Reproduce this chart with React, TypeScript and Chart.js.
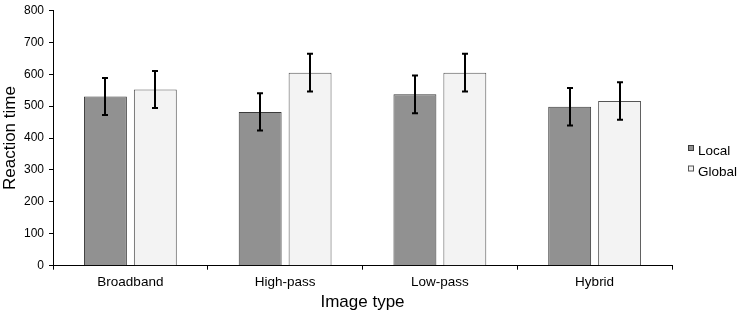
import React, { useEffect, useRef } from "react";
import { Chart, registerables } from "chart.js";

Chart.register(...registerables);

const categories = ["Broadband", "High-pass", "Low-pass", "Hybrid"];
const localValues = [530, 482, 537, 498];
const globalValues = [552, 605, 605, 516];
const localErrors = [58, 58, 59, 59];
const globalErrors = [58, 59, 59, 59];
const yTicks = [0, 100, 200, 300, 400, 500, 600, 700, 800];

const FONT = "'Liberation Sans', Arial, Helvetica, sans-serif";

const errorBarPlugin = {
  id: "errorBars",
  afterDatasetsDraw(chart: any) {
    const ctx = chart.ctx;
    const yScale = chart.scales.y;
    chart.data.datasets.forEach((ds: any, di: number) => {
      const meta = chart.getDatasetMeta(di);
      const errs: number[] = ds.errors || [];
      meta.data.forEach((bar: any, i: number) => {
        const v = ds.data[i];
        const e = errs[i];
        if (e == null) return;
        const x = Math.round(bar.x);
        const yTop = yScale.getPixelForValue(v + e);
        const yBot = yScale.getPixelForValue(v - e);
        ctx.save();
        ctx.strokeStyle = "#000";
        ctx.lineWidth = 2;
        ctx.beginPath();
        ctx.moveTo(x, yTop);
        ctx.lineTo(x, yBot);
        ctx.moveTo(x - 3, yTop);
        ctx.lineTo(x + 3, yTop);
        ctx.moveTo(x - 3, yBot);
        ctx.lineTo(x + 3, yBot);
        ctx.stroke();
        ctx.restore();
      });
    });
  },
};

const sideLegendPlugin = {
  id: "sideLegend",
  afterDraw(chart: any) {
    const ctx = chart.ctx;
    const x0 = 688;
    const y0 = 145;
    ctx.save();
    ctx.font = `13.5px ${FONT}`;
    ctx.textBaseline = "alphabetic";
    chart.data.datasets.forEach((ds: any, i: number) => {
      const y = y0 + i * 20.5;
      ctx.fillStyle = ds.backgroundColor;
      ctx.fillRect(x0 + 0.5, y + 0.5, 5, 5);
      ctx.strokeStyle = ds.borderColor;
      ctx.lineWidth = 1;
      ctx.strokeRect(x0 + 0.5, y + 0.5, 5, 5);
      ctx.fillStyle = "#000";
      ctx.fillText(ds.label, x0 + 10, y + 10);
    });
    ctx.restore();
  },
};

export default function App() {
  const canvasRef = useRef<HTMLCanvasElement | null>(null);

  useEffect(() => {
    const canvas = canvasRef.current;
    if (!canvas) return;
    const chart = new Chart(canvas, {
      type: "bar",
      data: {
        labels: categories,
        datasets: [
          {
            label: "Local",
            data: localValues,
            errors: localErrors,
            backgroundColor: "#919191",
            borderColor: "#3a3a3a",
            borderWidth: 1,
            barPercentage: 0.86,
            categoryPercentage: 0.645,
          } as any,
          {
            label: "Global",
            data: globalValues,
            errors: globalErrors,
            backgroundColor: "#f3f3f3",
            borderColor: "#555555",
            borderWidth: 1,
            barPercentage: 0.86,
            categoryPercentage: 0.645,
          } as any,
        ],
      },
      options: {
        responsive: false,
        animation: false,
        layout: { padding: { top: 5, right: 65, bottom: 0, left: 0 } },
        plugins: {
          legend: { display: false },
          tooltip: { enabled: false },
        },
        scales: {
          x: {
            grid: {
              display: true,
              drawOnChartArea: false,
              drawTicks: true,
              tickLength: 4,
              color: "#000",
              offset: true,
            },
            border: { display: true, color: "#000", width: 1 },
            ticks: {
              color: "#000",
              font: { family: FONT, size: 13.5 },
              padding: 4,
              maxRotation: 0,
            },
            title: {
              display: true,
              text: "Image type",
              color: "#000",
              font: { family: FONT, size: 17 },
              padding: { top: 0, bottom: 0 },
            },
            afterFit(scale: any) {
              scale.height = 47.3;
            },
          },
          y: {
            min: 0,
            max: 800,
            afterBuildTicks(scale: any) {
              scale.ticks = yTicks.map((v) => ({ value: v }));
            },
            grid: {
              display: true,
              drawOnChartArea: false,
              drawTicks: true,
              tickLength: 4,
              color: "#000",
            },
            border: { display: true, color: "#000", width: 1 },
            ticks: {
              color: "#000",
              font: { family: FONT, size: 12, lineHeight: 0.9 },
              padding: 5,
            },
            title: {
              display: true,
              text: "Reaction time",
              color: "#000",
              font: { family: FONT, size: 17 },
              padding: { top: 0, bottom: 0 },
            },
            afterFit(scale: any) {
              scale.width = 53;
            },
          },
        },
      } as any,
      plugins: [errorBarPlugin, sideLegendPlugin],
    });
    return () => chart.destroy();
  }, []);

  return (
    <div style={{ position: "fixed", left: 0, top: 0, width: 737, height: 313, background: "#fff" }}>
      <canvas ref={canvasRef} width={737} height={313} style={{ display: "block" }} />
    </div>
  );
}
